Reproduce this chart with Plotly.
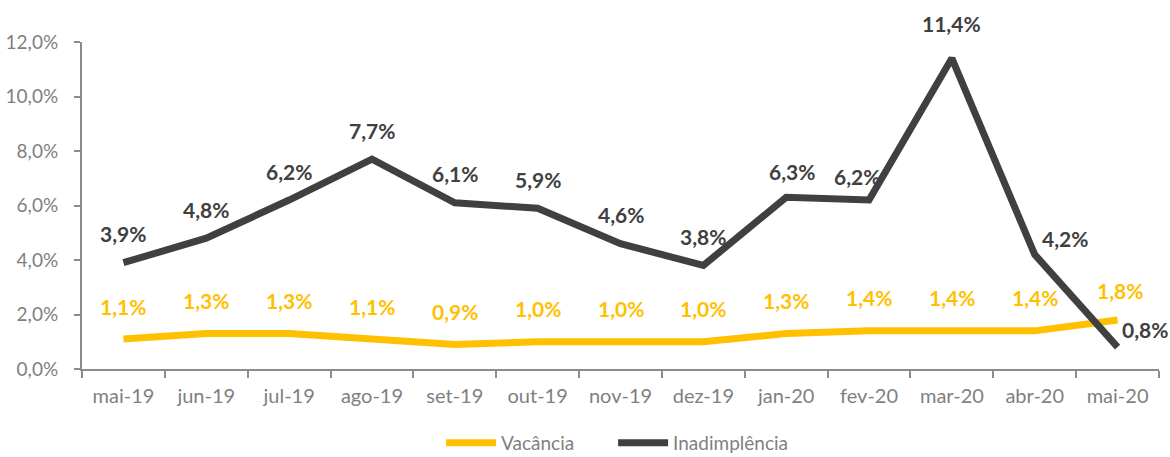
import plotly.graph_objects as go

months = ["mai-19", "jun-19", "jul-19", "ago-19", "set-19", "out-19", "nov-19",
          "dez-19", "jan-20", "fev-20", "mar-20", "abr-20", "mai-20"]
vacancia = [1.1, 1.3, 1.3, 1.1, 0.9, 1.0, 1.0, 1.0, 1.3, 1.4, 1.4, 1.4, 1.8]
inadimplencia = [3.9, 4.8, 6.2, 7.7, 6.1, 5.9, 4.6, 3.8, 6.3, 6.2, 11.4, 4.2, 0.8]
y_ticks = [0, 2, 4, 6, 8, 10, 12]
y_tick_labels = ["0,0%", "2,0%", "4,0%", "6,0%", "8,0%", "10,0%", "12,0%"]

YELLOW = "#FFC000"
DARK = "#404040"
GRAY = "#7f7f7f"
AXIS = "#8c8c8c"
FONT = "Lato"

def fmt(v):
    return f"{v:.1f}".replace(".", ",") + "%"

fig = go.Figure()
fig.add_trace(go.Scatter(x=months, y=vacancia, mode="lines", name="Vacância",
                         line=dict(color=YELLOW, width=7), legend="legend"))
fig.add_trace(go.Scatter(x=months, y=inadimplencia, mode="lines", name="Inadimplência",
                         line=dict(color=DARK, width=7), legend="legend2"))

# label offsets (pixels)
inad_shift = {i: (0, 29) for i in range(len(months))}
inad_shift[9] = (-12, 24)
inad_shift[8] = (6, 26)
inad_shift[10] = (0, 35)
inad_shift[11] = (30, 16)
vac_shift = {i: (0, 33) for i in range(len(months))}
vac_shift[12] = (2, 29)

for i, (m, v) in enumerate(zip(months, vacancia)):
    dx, dy = vac_shift[i]
    fig.add_annotation(x=m, y=v, text=f"<b>{fmt(v)}</b>", showarrow=False,
                       xshift=dx, yshift=dy,
                       font=dict(family=FONT, size=21, color=YELLOW))
for i, (m, v) in enumerate(zip(months, inadimplencia)):
    if i == len(months) - 1:
        fig.add_annotation(x=m, y=v, text=f"<b>{fmt(v)}</b>", showarrow=False,
                           xanchor="left", xshift=2, yshift=18,
                           font=dict(family=FONT, size=21, color=DARK))
        continue
    dx, dy = inad_shift[i]
    fig.add_annotation(x=m, y=v, text=f"<b>{fmt(v)}</b>", showarrow=False,
                       xshift=dx, yshift=dy,
                       font=dict(family=FONT, size=21, color=DARK))

legend_common = dict(orientation="h", xanchor="left", xref="container",
                     y=0.031, yanchor="middle", yref="container",
                     font=dict(family=FONT, size=19, color=GRAY), itemwidth=50,
                     bgcolor="rgba(0,0,0,0)")

fig.update_layout(
    width=1170, height=457,
    margin=dict(l=82, r=11, t=42, b=88, autoexpand=False),
    paper_bgcolor="white", plot_bgcolor="white",
    font=dict(family=FONT, size=19, color=GRAY),
    showlegend=True,
    legend=dict(x=0.377, **legend_common),
    legend2=dict(x=0.524, **legend_common),
    xaxis=dict(type="category", showgrid=False, showline=True, linecolor=AXIS,
               linewidth=2, ticks="outside", tickson="boundaries", ticklen=7,
               tickwidth=2, tickcolor=AXIS, ticklabelstandoff=8,
               tickfont=dict(family=FONT, size=20, color=GRAY),
               range=[-0.5, len(months) - 0.5]),
    yaxis=dict(range=[0, 12], showgrid=False, showline=True, linecolor=AXIS,
               linewidth=2, ticks="outside", ticklen=6, tickwidth=2, tickcolor=AXIS,
               tickvals=y_ticks, ticktext=y_tick_labels, zeroline=False,
               ticklabelstandoff=12,
               tickfont=dict(family=FONT, size=19, color=GRAY)),
)

fig.write_html("out.html", config={"displayModeBar": False},
               post_script="document.body.style.margin='0';document.body.style.overflow='hidden';")
